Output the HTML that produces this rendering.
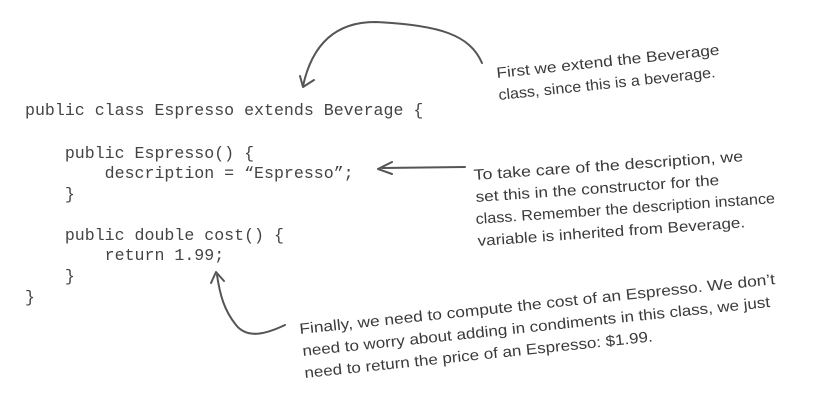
<!DOCTYPE html>
<html><head><meta charset="utf-8"><style>
html,body{margin:0;padding:0;background:#fff;}
body{width:816px;height:413px;overflow:hidden;position:relative;}
svg{position:absolute;left:0;top:0;}
.c{font-family:"Liberation Mono",monospace;font-size:16.6px;fill:#444;font-weight:normal;}
.h{font-family:"Liberation Sans",sans-serif;font-size:15px;fill:#3a3a3a;}
</style></head><body>
<svg width="816" height="413" viewBox="0 0 816 413">
<g class="c">
<text x="25" y="115" xml:space="preserve">public class Espresso extends Beverage {</text>
<text x="25" y="158" xml:space="preserve">    public Espresso() {</text>
<text x="25" y="178" xml:space="preserve">        description = “Espresso”;</text>
<text x="25" y="199" xml:space="preserve">    }</text>
<text x="25" y="240" xml:space="preserve">    public double cost() {</text>
<text x="25" y="260" xml:space="preserve">        return 1.99;</text>
<text x="25" y="281" xml:space="preserve">    }</text>
<text x="25" y="302" xml:space="preserve">}</text>
</g>
<g fill="none" stroke="#555" stroke-width="2" stroke-linecap="round" stroke-linejoin="round">
<path d="M482 63 C470 35 440 25 375 22 C335 22 312 45 303 86"/>
<path d="M300 76 L303 87 L314 80"/>
<path d="M465 167 L382 168"/>
<path d="M392 162 L378 169 L392 174"/>
<path d="M285 325 C268 333 248 340 236 325 C224 310 220 295 217 275"/>
<path d="M211 283 L216 272 L224 281"/>
</g>
<g class="h">
<text transform="translate(497,78) rotate(-6)" textLength="224" lengthAdjust="spacingAndGlyphs">First we extend the Beverage</text>
<text transform="translate(499,100) rotate(-6)" textLength="218" lengthAdjust="spacingAndGlyphs">class, since this is a beverage.</text>
<text transform="translate(474,180) rotate(-4)" textLength="270" lengthAdjust="spacingAndGlyphs">To take care of the description, we</text>
<text transform="translate(476,202) rotate(-4)" textLength="244" lengthAdjust="spacingAndGlyphs">set this in the constructor for the</text>
<text transform="translate(476,224) rotate(-4)" textLength="300" lengthAdjust="spacingAndGlyphs">class.  Remember the description instance</text>
<text transform="translate(478,246) rotate(-4)" textLength="268" lengthAdjust="spacingAndGlyphs">variable is inherited from Beverage.</text>
<text transform="translate(300,334) rotate(-6)" textLength="478" lengthAdjust="spacingAndGlyphs">Finally, we need to compute the cost of an Espresso.  We don’t</text>
<text transform="translate(303,356) rotate(-6)" textLength="470" lengthAdjust="spacingAndGlyphs">need to worry about adding in condiments in this class, we just</text>
<text transform="translate(305,378) rotate(-6)" textLength="350" lengthAdjust="spacingAndGlyphs">need to return the price of an Espresso: $1.99.</text>
</g>
</svg>
</body></html>
